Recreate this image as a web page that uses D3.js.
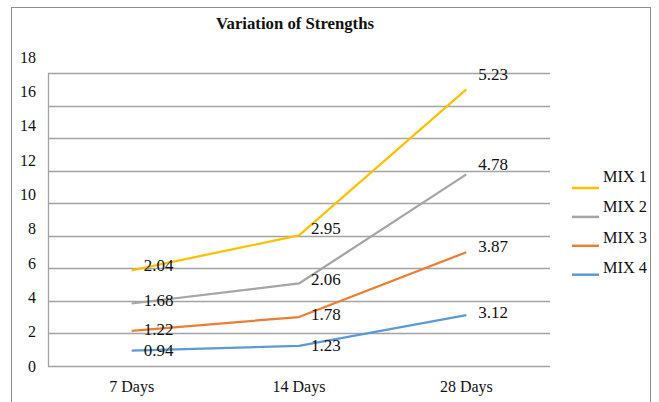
<!DOCTYPE html>
<html>
<head>
<meta charset="utf-8">
<script src="https://cdn.jsdelivr.net/npm/d3@7"></script>
</head>
<body style="margin:0;background:#fff">
<svg id="fig" width="659" height="402" style="display:block"></svg>
<script>
// Curing ages along the x axis
const ages = ["7 Days", "14 Days", "28 Days"];

// Strength values per mix (each series is stacked on the ones below it)
const mix1 = [2.04, 2.95, 5.23];
const mix2 = [1.68, 2.06, 4.78];
const mix3 = [1.22, 1.78, 3.87];
const mix4 = [0.94, 1.23, 3.12];

const seriesNames = ["MIX 1", "MIX 2", "MIX 3", "MIX 4"];
const seriesColors = ["#FFC000", "#A5A5A5", "#ED7D31", "#5B9BD5"];

// Value axis ticks
const yTicks = [0, 2, 4, 6, 8, 10, 12, 14, 16, 18];

const svg = d3.select("#fig");
const textColor = "#111";
const serifFace = "'Liberation Serif', Tinos, 'Times New Roman', serif";

// Outer chart frame
svg.append("rect")
  .attr("x", 11.5).attr("y", 7.5)
  .attr("width", 639).attr("height", 410)
  .attr("fill", "none").attr("stroke", "#8c8c8c").attr("stroke-width", 1);

// Title
svg.append("text")
  .attr("x", 295).attr("y", 29)
  .attr("text-anchor", "middle")
  .style("font-family", serifFace)
  .attr("font-size", 17).attr("font-weight", "bold")
  .attr("fill", textColor)
  .attr("textLength", 158).attr("lengthAdjust", "spacingAndGlyphs")
  .text("Variation of Strengths");

// Plot area
const plot = { left: 48, right: 550, top: 73, bottom: 366 };

const x = d3.scaleBand().domain(ages).range([plot.left, plot.right]);
const y = d3.scaleLinear().domain([0, 18]).range([plot.bottom, plot.top]);
// text labels sit on a slightly taller scale than the plotted marks
const yText = d3.scaleLinear().domain([0, 18]).range([366, 57]);

// Gridlines
svg.append("g")
  .selectAll("line")
  .data(yTicks)
  .join("line")
  .attr("x1", plot.left).attr("x2", plot.right)
  .attr("y1", d => Math.round(y(d)) + 0.5).attr("y2", d => Math.round(y(d)) + 0.5)
  .attr("stroke", "#a3a3a3").attr("stroke-width", 1.3);

// Left axis line
svg.append("line")
  .attr("x1", plot.left + 0.5).attr("x2", plot.left + 0.5)
  .attr("y1", Math.round(y(18)) + 0.5).attr("y2", Math.round(y(0)) + 0.5)
  .attr("stroke", "#a3a3a3").attr("stroke-width", 1.3);

// Y tick labels
svg.append("g")
  .selectAll("text")
  .data(yTicks)
  .join("text")
  .attr("x", 36)
  .attr("y", d => yText(d))
  .attr("dy", "0.35em")
  .attr("text-anchor", "end")
  .style("font-family", serifFace)
  .attr("font-size", 16)
  .attr("fill", textColor)
  .text(d => d);

// X category labels
svg.append("g")
  .selectAll("text")
  .data(ages)
  .join("text")
  .attr("x", d => x(d) + x.bandwidth() / 2)
  .attr("y", 392)
  .attr("text-anchor", "middle")
  .style("font-family", serifFace)
  .attr("font-size", 16)
  .attr("fill", textColor)
  .text(d => d);

// Stack the series: MIX 4 at the bottom, MIX 1 on top
const rows = ages.map((a, i) => ({
  age: a,
  "MIX 1": mix1[i], "MIX 2": mix2[i], "MIX 3": mix3[i], "MIX 4": mix4[i]
}));
const stackKeys = seriesNames.slice().reverse();
const stacked = d3.stack().keys(stackKeys)(rows);

const cx = d => x(d.data.age) + x.bandwidth() / 2;
const line = d3.line().x(cx).y(d => y(d[1]));

const layers = svg.append("g")
  .selectAll("g")
  .data(stacked)
  .join("g");

layers.append("path")
  .attr("d", s => line(s))
  .attr("fill", "none")
  .attr("stroke", s => seriesColors[seriesNames.indexOf(s.key)])
  .attr("stroke-width", 2.25)
  .attr("stroke-linejoin", "round");

// Data labels: the series value, placed to the right of each point
layers.selectAll("text")
  .data(s => s.map(d => ({ d, key: s.key })))
  .join("text")
  .attr("x", o => cx(o.d) + 12)
  .attr("y", o => yText(o.d[1]))
  .attr("dy", "0.35em")
  .style("font-family", serifFace)
  .attr("font-size", 17)
  .attr("fill", textColor)
  .text(o => d3.format(".2f")(o.d.data[o.key]));

// Legend
const legend = svg.append("g")
  .selectAll("g")
  .data(seriesNames)
  .join("g");

legend.append("line")
  .attr("x1", 572).attr("x2", 599)
  .attr("y1", (d, i) => 188 + i * 28.9).attr("y2", (d, i) => 188 + i * 28.9)
  .attr("stroke", (d, i) => seriesColors[i])
  .attr("stroke-width", 2.5);

legend.append("text")
  .attr("x", 603)
  .attr("y", (d, i) => 182 + i * 30.3)
  .style("font-family", serifFace)
  .attr("font-size", 16.3)
  .attr("fill", textColor)
  .text(d => d);
</script>
</body>
</html>
